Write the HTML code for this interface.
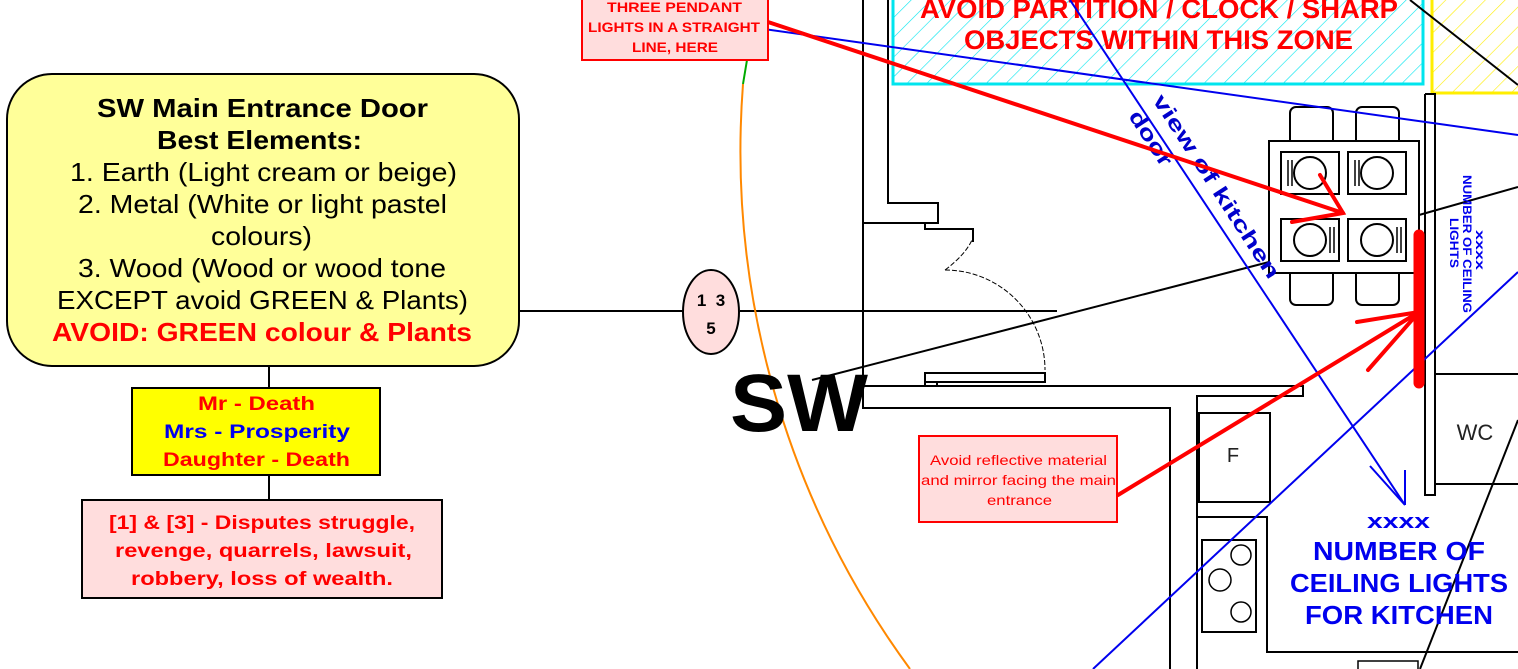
<!DOCTYPE html>
<html><head><meta charset="utf-8"><style>
html,body{margin:0;padding:0;background:#fff;}
svg{display:block;font-family:"Liberation Sans",Arial,sans-serif;}
</style></head><body>
<svg width="1518" height="669" viewBox="0 0 1518 669" xmlns="http://www.w3.org/2000/svg">
<defs>
<pattern id="hc" width="14" height="14" patternUnits="userSpaceOnUse" patternTransform="rotate(45)">
<line x1="0" y1="0" x2="0" y2="14" stroke="#00e5ee" stroke-width="1.2"/></pattern>
<pattern id="hy" width="14" height="14" patternUnits="userSpaceOnUse" patternTransform="rotate(45)">
<line x1="0" y1="0" x2="0" y2="14" stroke="#ffee00" stroke-width="1.2"/></pattern>
</defs>

<rect x="893" y="-5" width="530" height="89" fill="url(#hc)" stroke="#00e5ee" stroke-width="3"/>
<rect x="1432" y="-5" width="95" height="98" fill="url(#hy)" stroke="#ffee00" stroke-width="3"/>
<g fill="#ff0000" font-weight="bold" font-size="27" lengthAdjust="spacingAndGlyphs">
<text x="920" y="18" textLength="478" lengthAdjust="spacingAndGlyphs">AVOID PARTITION / CLOCK / SHARP</text>
<text x="964" y="49" textLength="389" lengthAdjust="spacingAndGlyphs">OBJECTS WITHIN THIS ZONE</text>
</g>

<g fill="none" stroke="#000" stroke-width="2">
<polyline points="863,0 863,408 1170,408 1170,669"/>
<polyline points="888,0 888,203 938,203 938,223 925,223 925,229 973,229 973,242"/>
<polyline points="863,223 925,223"/>
<polyline points="863,386 1303,386 1303,396 1197,396 1197,669"/>
<rect x="925" y="373" width="120" height="9"/>
<rect x="925" y="382" width="12" height="4"/>
<rect x="1199" y="413" width="71" height="89"/>
<polyline points="1197,517 1267,517 1267,652 1518,652"/>
<rect x="1202" y="540" width="54" height="92"/>
<circle cx="1241" cy="555" r="10" stroke-width="1.5"/>
<circle cx="1220" cy="580" r="11" stroke-width="1.5"/>
<circle cx="1241" cy="612" r="10" stroke-width="1.5"/>
<polyline points="1425,94 1425,495 1435,495 1435,94 1425,94"/>
<line x1="1435" y1="374" x2="1518" y2="374"/>
<line x1="1435" y1="484" x2="1518" y2="484"/>
<rect x="1358" y="661" width="60" height="20" stroke-width="1.5"/>
</g>
<path d="M945,270 A100,100 0 0 1 1045,370" fill="none" stroke="#000" stroke-width="1" stroke-dasharray="5,2"/>
<path d="M945,270 Q965,255 972,240" fill="none" stroke="#000" stroke-width="1" stroke-dasharray="5,2"/>
<text x="1233" y="462" font-size="20" text-anchor="middle" fill="#222">F</text>
<text x="1475" y="440" font-size="22" text-anchor="middle" fill="#222">WC</text>

<g fill="#fff" stroke="#000" stroke-width="2">
<rect x="1290" y="107" width="43" height="40" rx="6"/>
<rect x="1356" y="107" width="43" height="40" rx="6"/>
<rect x="1290" y="265" width="43" height="40" rx="6"/>
<rect x="1356" y="265" width="43" height="40" rx="6"/>
<rect x="1269" y="141" width="150" height="132"/>
<rect x="1281" y="152" width="58" height="42"/>
<rect x="1348" y="152" width="58" height="42"/>
<rect x="1281" y="219" width="58" height="42"/>
<rect x="1348" y="219" width="58" height="42"/>
<circle cx="1310" cy="173" r="16"/><circle cx="1377" cy="173" r="16"/>
<circle cx="1310" cy="240" r="16"/><circle cx="1377" cy="240" r="16"/>
</g>
<g stroke="#000" stroke-width="1.5">
<line x1="1288" y1="160" x2="1288" y2="186"/><line x1="1292" y1="160" x2="1292" y2="186"/>
<line x1="1355" y1="160" x2="1355" y2="186"/><line x1="1359" y1="160" x2="1359" y2="186"/>
<line x1="1330" y1="227" x2="1330" y2="253"/><line x1="1334" y1="227" x2="1334" y2="253"/>
<line x1="1397" y1="227" x2="1397" y2="253"/><line x1="1401" y1="227" x2="1401" y2="253"/>
</g>

<g stroke="#000" stroke-width="2" fill="none">
<line x1="519" y1="311" x2="683" y2="311"/>
<line x1="740" y1="311" x2="1057" y2="311"/>
<line x1="812" y1="380" x2="1269" y2="262"/>
<line x1="1419" y1="215" x2="1518" y2="187"/>
<line x1="1410" y1="0" x2="1518" y2="85"/>
<line x1="1420" y1="669" x2="1518" y2="420"/>
<line x1="269" y1="366" x2="269" y2="388"/>
<line x1="269" y1="475" x2="269" y2="500"/>
</g>

<path d="M743,84 A877,877 0 0 0 910,669" fill="none" stroke="#ff8800" stroke-width="2"/>
<line x1="743" y1="84" x2="757" y2="0" stroke="#00aa00" stroke-width="2"/>

<g stroke="#0000ee" stroke-width="2" fill="none">
<line x1="707" y1="21" x2="1518" y2="135"/>
<line x1="1070" y1="0" x2="1405" y2="505"/>
<line x1="1405" y1="470" x2="1405" y2="505"/>
<line x1="1370" y1="466" x2="1405" y2="505"/>
<line x1="1093" y1="669" x2="1518" y2="272"/>
</g>
<g fill="#0000cc" font-weight="bold" font-size="21">
<text transform="translate(1152,100) rotate(57)" textLength="215" lengthAdjust="spacingAndGlyphs">view of kitchen</text>
<text transform="translate(1128,116) rotate(57)" textLength="62" lengthAdjust="spacingAndGlyphs">door</text>
</g>

<g stroke="#ff0000" fill="none" stroke-linecap="round">
<line x1="768" y1="22" x2="1343" y2="213" stroke-width="4"/>
<polyline points="1320,175 1343,213 1292,222" stroke-width="4"/>
<line x1="1419" y1="235" x2="1419" y2="383" stroke-width="11"/>
<line x1="1118" y1="495" x2="1419" y2="312" stroke-width="4"/>
<polyline points="1357,322 1419,312 1368,370" stroke-width="4"/>
</g>

<rect x="582" y="-5" width="186" height="65" fill="#ffdddd" stroke="#ff0000" stroke-width="2"/>
<g fill="#ff0000" font-weight="bold" font-size="14">
<text x="607" y="12" textLength="135" lengthAdjust="spacingAndGlyphs">THREE PENDANT</text>
<text x="588" y="32" textLength="172" lengthAdjust="spacingAndGlyphs">LIGHTS IN A STRAIGHT</text>
<text x="632" y="52" textLength="86" lengthAdjust="spacingAndGlyphs">LINE, HERE</text>
</g>

<rect x="919" y="436" width="198" height="86" fill="#ffdddd" stroke="#ff0000" stroke-width="2"/>
<g fill="#ff0000" font-size="14">
<text x="930" y="465" textLength="177" lengthAdjust="spacingAndGlyphs">Avoid reflective material</text>
<text x="921" y="485" textLength="195" lengthAdjust="spacingAndGlyphs">and mirror facing the main</text>
<text x="987" y="505" textLength="65" lengthAdjust="spacingAndGlyphs">entrance</text>
</g>

<g fill="#0000ee" font-weight="bold">
<text x="1367" y="528" font-size="20" textLength="63" lengthAdjust="spacingAndGlyphs">xxxx</text>
<text x="1313" y="560" font-size="26" textLength="172" lengthAdjust="spacingAndGlyphs">NUMBER OF</text>
<text x="1290" y="592" font-size="26" textLength="218" lengthAdjust="spacingAndGlyphs">CEILING LIGHTS</text>
<text x="1305" y="624" font-size="26" textLength="188" lengthAdjust="spacingAndGlyphs">FOR KITCHEN</text>
</g>
<g fill="#0000ee" font-weight="bold" font-size="12">
<text transform="translate(1476,230) rotate(90)" textLength="40" lengthAdjust="spacingAndGlyphs">xxxx</text>
<text transform="translate(1463,175) rotate(90)" textLength="138" lengthAdjust="spacingAndGlyphs">NUMBER OF CEILING</text>
<text transform="translate(1450,218) rotate(90)" textLength="50" lengthAdjust="spacingAndGlyphs">LIGHTS</text>
</g>

<text x="730" y="431" font-size="82" font-weight="bold" fill="#000" textLength="138" lengthAdjust="spacingAndGlyphs">SW</text>

<ellipse cx="711" cy="312" rx="28" ry="42" fill="#ffdddd" stroke="#000" stroke-width="2"/>
<g font-weight="bold" font-size="17" text-anchor="middle" fill="#000">
<text x="711" y="306">1&#160;&#160;3</text>
<text x="711" y="334">5</text>
</g>

<rect x="7" y="74" width="512" height="292" rx="45" fill="#ffff99" stroke="#000" stroke-width="2"/>
<g font-size="26" fill="#000">
<text x="97" y="117" font-weight="bold" textLength="331" lengthAdjust="spacingAndGlyphs">SW Main Entrance Door</text>
<text x="157" y="149" font-weight="bold" textLength="205" lengthAdjust="spacingAndGlyphs">Best Elements:</text>
<text x="70" y="181" textLength="387" lengthAdjust="spacingAndGlyphs">1. Earth (Light cream or beige)</text>
<text x="78" y="213" textLength="369" lengthAdjust="spacingAndGlyphs">2. Metal (White or light pastel</text>
<text x="211" y="245" textLength="101" lengthAdjust="spacingAndGlyphs">colours)</text>
<text x="78" y="277" textLength="368" lengthAdjust="spacingAndGlyphs">3. Wood (Wood or wood tone</text>
<text x="57" y="309" textLength="411" lengthAdjust="spacingAndGlyphs">EXCEPT avoid GREEN &amp; Plants)</text>
<text x="52" y="341" font-weight="bold" fill="#ff0000" textLength="420" lengthAdjust="spacingAndGlyphs">AVOID: GREEN colour &amp; Plants</text>
</g>

<rect x="132" y="388" width="248" height="87" fill="#ffff00" stroke="#000" stroke-width="2"/>
<g font-weight="bold" font-size="19">
<text x="198" y="410" fill="#ff0000" textLength="117" lengthAdjust="spacingAndGlyphs">Mr -  Death</text>
<text x="164" y="438" fill="#0000ee" textLength="186" lengthAdjust="spacingAndGlyphs">Mrs -  Prosperity</text>
<text x="163" y="466" fill="#ff0000" textLength="187" lengthAdjust="spacingAndGlyphs">Daughter -  Death</text>
</g>

<rect x="82" y="500" width="360" height="98" fill="#ffdddd" stroke="#000" stroke-width="2"/>
<g font-weight="bold" font-size="19" fill="#ff0000">
<text x="109" y="529" textLength="306" lengthAdjust="spacingAndGlyphs">[1] &amp; [3] - Disputes struggle,</text>
<text x="115" y="557" textLength="297" lengthAdjust="spacingAndGlyphs">revenge, quarrels, lawsuit,</text>
<text x="131" y="585" textLength="262" lengthAdjust="spacingAndGlyphs">robbery, loss of wealth.</text>
</g>
</svg>
</body></html>
